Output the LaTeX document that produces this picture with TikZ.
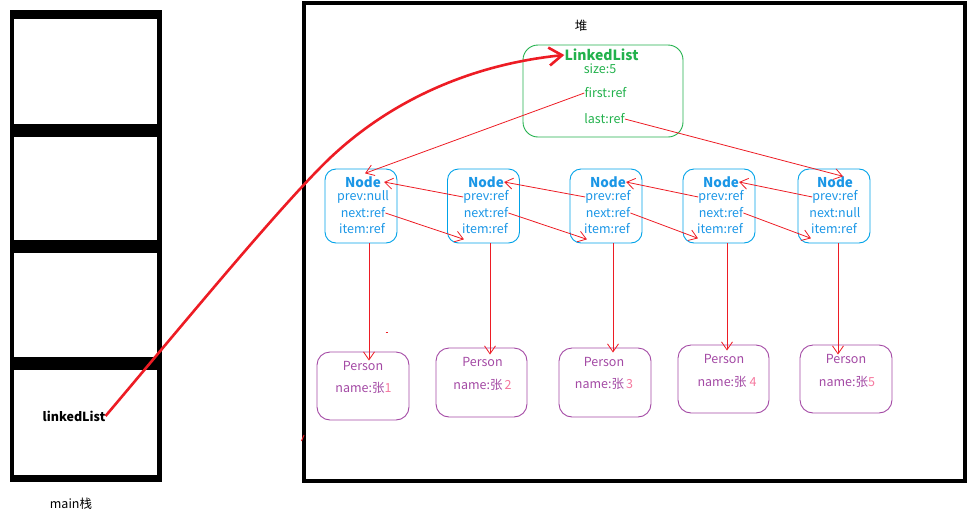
\documentclass[tikz,border=0pt]{standalone}
\usepackage{fontspec}
\setmainfont{Noto Sans CJK SC}
\usetikzlibrary{arrows.meta}
\definecolor{redc}{HTML}{ED1C24}
\definecolor{greenc}{HTML}{22B14C}
\definecolor{bluec}{HTML}{00A2E8}
\definecolor{bluet}{HTML}{1A96E6}
\definecolor{purplec}{HTML}{A349A4}
\definecolor{pinkc}{HTML}{F5789E}
\begin{document}
\begin{tikzpicture}[x=1pt,y=-1pt,
  txt/.style={inner sep=0pt,font=\fontsize{12.5}{14}\selectfont},
  listbox/.style={draw=greenc,line width=0.9pt,rounded corners=15pt,minimum width=160pt,minimum height=92pt,inner sep=0pt},
  nodebox/.style={draw=bluec,line width=0.9pt,rounded corners=11pt,minimum width=72pt,minimum height=74pt,inner sep=0pt},
  personbox/.style={draw=purplec,line width=0.9pt,rounded corners=13pt,minimum width=92pt,minimum height=68pt,inner sep=0pt},
  gtxt/.style={txt,text=greenc},
  btxt/.style={txt,text=bluet},
  ptxt/.style={txt,text=purplec},
  ref/.style={draw=redc,line width=0.8pt,-{Straight Barb[length=8pt,width=11pt]}},
  bigref/.style={draw=redc,line width=2.6pt,-{Straight Barb[length=13pt,width=18pt,line width=2.6pt]}}
]
\useasboundingbox (0,0) rectangle (972,517);
% stack
\fill[black] (10,10) rectangle (162,482);
\fill[white] (14,19) rectangle (157,124);
\fill[white] (14,137) rectangle (157,240);
\fill[white] (14,253) rectangle (157,357);
\fill[white] (14,370) rectangle (157,475);
\node[txt,font=\fontsize{12.5}{14}\selectfont\bfseries] (ll) at (74,416) {linkedList};
\node[txt] (mainlbl) at (71,504) {main栈};
% heap
\draw[line width=4pt] (304,3) rectangle (965,481);
\node[txt] (heaplbl) at (581,26) {堆};
% LinkedList
\node[listbox] (L) at (603,91) {};
\node[gtxt,font=\fontsize{14}{16}\selectfont\bfseries] (Lt) at (601.5,55) {LinkedList};
\node[gtxt] (Ls) at (600,69) {size:5};
\node[gtxt] (Lf) at (605.5,93) {first:ref};
\node[gtxt] (Ll) at (604.5,119) {last:ref};
% Nodes
\foreach \i/\cx/\tx/\pv/\nx in {1/361/363/null/ref,2/483.5/486/ref/ref,3/606/608/ref/ref,4/719/721/ref/ref,5/834/835/ref/null}{
  \node[nodebox] (n\i) at (\cx,206) {};
  \node[btxt,font=\fontsize{13.5}{15}\selectfont\bfseries] (n\i t) at (\tx,182) {Node};
  \node[btxt] (n\i p) at (\tx,197) {prev:\pv};
  \node[btxt] (n\i n) at (\tx,213) {next:\nx};
  \node[btxt] (n\i i) at (\tx-1,229) {item:ref};
}
% Persons
\node[personbox] (p1) at (363,386) {};
\node[personbox,minimum width=91pt,minimum height=69pt] (p2) at (481.5,382.5) {};
\node[personbox,minimum height=69pt] (p3) at (605,382.5) {};
\node[personbox,minimum width=91pt] (p4) at (723.5,379) {};
\node[personbox] (p5) at (846,379) {};
\node[ptxt] (p1t) at (363,366) {Person};
\node[ptxt] (p1n) at (363.5,388) {name:张\textcolor{pinkc}{1}};
\node[ptxt] (p2t) at (482.5,362) {Person};
\node[ptxt] (p2n) at (482.5,385) {name:张\,\textcolor{pinkc}{2}};
\node[ptxt] (p3t) at (604,362) {Person};
\node[ptxt] (p3n) at (604,384) {name:张\,\textcolor{pinkc}{3}};
\node[ptxt] (p4t) at (724,359) {Person};
\node[ptxt] (p4n) at (727,382) {name:张\ \textcolor{pinkc}{4}};
\node[ptxt] (p5t) at (846,359) {Person};
\node[ptxt] (p5n) at (847,382) {name:张\textcolor{pinkc}{5}};
% big reference
\draw[bigref] (ll.east) .. controls (180,328) and (280,206) .. (330,158)
  .. controls (400,92) and (485,63) .. (Lt.west);
% first / last
\draw[ref] (Lf.west) -- ([xshift=2pt,yshift=3pt]n1t.north);
\draw[ref] (Ll.east) -- ([xshift=8pt]n5t.north);
% prev links
\draw[ref] (n2p.west) -- ([xshift=3pt]n1t.east);
\draw[ref] (n3p.west) -- (n2t.east);
\draw[ref] (n4p.west) -- (n3t.east);
\draw[ref] (n5p.west) -- (n4t.east);
% next links
\draw[ref] (n1n.east) -- ([xshift=2pt,yshift=-5pt]n2i.south west);
\draw[ref] (n2n.east) -- ([xshift=3pt,yshift=-5pt]n3i.south west);
\draw[ref] (n3n.east) -- ([xshift=1pt,yshift=-4pt]n4i.south west);
\draw[ref] (n4n.east) -- ([xshift=0pt,yshift=-4pt]n5i.south west);
% item links
\draw[ref] ([xshift=8pt]n1.south) -- ([xshift=8pt,yshift=-9pt]n1.south |- p1.north);
\draw[ref] ([xshift=6.5pt]n2.south) -- ([xshift=6.5pt,yshift=-7pt]n2.south |- p2.north);
\draw[ref] ([xshift=7pt]n3.south) -- ([xshift=7pt,yshift=-5pt]n3.south |- p3.north);
\draw[ref] ([xshift=8pt]n4.south) -- ([xshift=8pt,yshift=-6pt]n4.south |- p4.north);
\draw[ref] ([xshift=4pt]n5.south) -- ([xshift=4pt,yshift=-10pt]n5.south |- p5.north);
% stray marks
\draw[redc,line width=0.8pt] (385.5,332) -- (388,332);
\draw[redc,line width=1pt] (301.5,441) -- (304,435);
\end{tikzpicture}
\end{document}
